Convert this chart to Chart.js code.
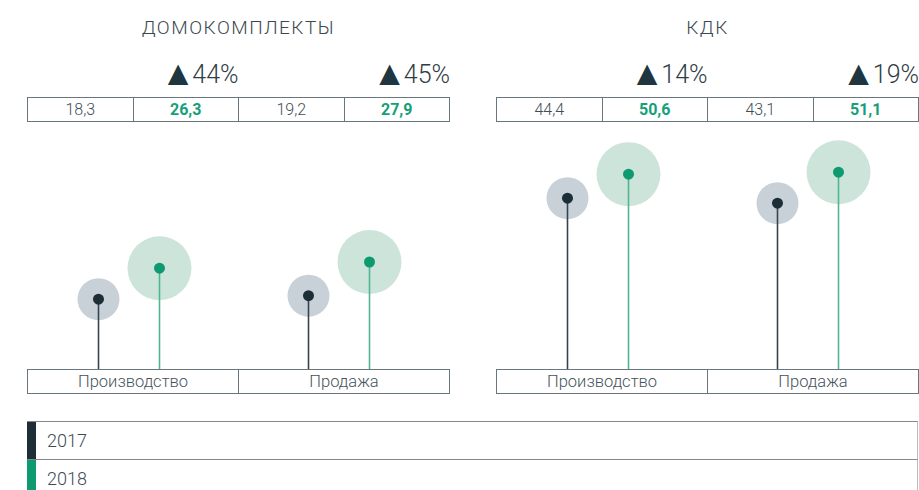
<!DOCTYPE html>
<html><head><meta charset="utf-8">
<script src="https://cdn.jsdelivr.net/npm/chart.js@4.4.1/dist/chart.umd.min.js"></script>
<style>
html,body{margin:0;padding:0;background:#fff;width:919px;height:490px;overflow:hidden;font-family:Roboto,sans-serif;}
.abs{position:absolute;box-sizing:border-box;}
.title{font-weight:300;font-size:19px;color:#3b4850;text-align:center;white-space:nowrap;letter-spacing:1.5px;}
.chg{font-weight:300;font-size:25px;color:#2f3d45;text-align:right;white-space:nowrap;line-height:30px;}
.tri{font-family:"DejaVu Sans",sans-serif;font-size:35px;line-height:30px;color:#1f3640;margin-right:-3px;position:relative;top:2px;}
.row{display:flex;border:1px solid #6a767e;background:#fff;z-index:2;}
.cell{flex:1;text-align:center;font-size:16px;font-weight:300;color:#414e56;line-height:23px;border-left:1px solid #6a767e;}
.cell:first-child{border-left:none;}
.cell.b{font-weight:700;color:#16a07a;}
.cat{font-size:16.5px;font-weight:300;color:#46535b;}
.leg{left:27px;width:891px;height:38px;border-top:1px solid #7f898f;border-right:1px solid #b6bdc1;}
.leg .bar{position:absolute;left:0;top:0;bottom:0;width:9px;}
.leg .txt{position:absolute;left:20px;top:0;line-height:37px;font-size:18px;font-weight:300;color:#3e4b53;}
canvas{position:absolute;}
</style></head><body>
<script>
// ---- data ----
const panelTitles = ['ДОМОКОМПЛЕКТЫ', 'КДК'];
const categories = ['Производство', 'Продажа'];
const seriesNames = ['2017', '2018'];
const domo2017 = [18.3, 19.2];
const domo2018 = [26.3, 27.9];
const kdk2017 = [44.4, 43.1];
const kdk2018 = [50.6, 51.1];
const domoChange = ['44%', '45%'];
const kdkChange = ['14%', '19%'];

// ---- styles ----
const seriesStyle = [
  {stem:'#34434c', dot:'#1e2e37', halo:'#c9d1d8', haloR:21, dotR:5.5},
  {stem:'#4fb592', dot:'#0e9a70', halo:'#cde4db', haloR:32, dotR:5.5}
];
const panelLeft = [27, 496];
const panelWidth = 423;

const panels = [
  {title: panelTitles[0], s17: domo2017, s18: domo2018, chg: domoChange},
  {title: panelTitles[1], s17: kdk2017, s18: kdk2018, chg: kdkChange}
];
const fmt = v => v.toFixed(1).replace('.', ',');

function el(cls, css, html){
  const d = document.createElement('div');
  d.className = cls;
  Object.assign(d.style, css);
  if (html !== undefined) d.innerHTML = html;
  document.body.appendChild(d);
  return d;
}

const lollipop = {
  id: 'lollipop',
  beforeDatasetsDraw(chart){
    const ctx = chart.ctx;
    chart.data.datasets.forEach((ds, i) => {
      const st = seriesStyle[i];
      chart.getDatasetMeta(i).data.forEach(bar => {
        ctx.save();
        ctx.fillStyle = st.halo;
        ctx.beginPath();
        ctx.arc(bar.x, bar.y, st.haloR, 0, Math.PI * 2);
        ctx.fill();
        ctx.restore();
      });
    });
  },
  afterDatasetsDraw(chart){
    const ctx = chart.ctx;
    chart.data.datasets.forEach((ds, i) => {
      const st = seriesStyle[i];
      chart.getDatasetMeta(i).data.forEach(bar => {
        ctx.save();
        ctx.fillStyle = st.dot;
        ctx.beginPath();
        ctx.arc(bar.x, bar.y, st.dotR, 0, Math.PI * 2);
        ctx.fill();
        ctx.restore();
      });
    });
  }
};

panels.forEach((p, pi) => {
  const L = panelLeft[pi];
  el('abs title', {left: L + 'px', width: panelWidth + 'px', top: '16px'}, p.title);
  // change labels, right aligned to 2nd and 4th cells
  p.chg.forEach((c, ci) => {
    const right = L + panelWidth * (ci + 1) / 2;
    el('abs chg', {left: (right - 150) + 'px', width: '150px', top: '56px'},
      '<span class="tri">▲</span>' + c);
  });
  // value row
  const r = el('abs row', {left: L + 'px', width: panelWidth + 'px', top: '97px', height: '25px'});
  categories.forEach((c, ci) => {
    [[p.s17[ci], ''], [p.s18[ci], ' b']].forEach(([v, b]) => {
      const d = document.createElement('div');
      d.className = 'cell' + b;
      d.textContent = fmt(v);
      r.appendChild(d);
    });
  });
  // category row
  const cr = el('abs row', {left: L + 'px', width: panelWidth + 'px', top: '369px', height: '25px'});
  categories.forEach(c => {
    const d = document.createElement('div');
    d.className = 'cell cat';
    d.textContent = c;
    cr.appendChild(d);
  });
  // chart
  const cv = document.createElement('canvas');
  cv.width = 420; cv.height = 240;
  cv.style.left = (L - 3) + 'px';
  cv.style.top = '130px';
  cv.style.width = '420px'; cv.style.height = '240px';
  document.body.appendChild(cv);
  new Chart(cv, {
    type: 'bar',
    data: {
      labels: categories,
      datasets: [
        {label: seriesNames[0], data: p.s17, backgroundColor: seriesStyle[0].stem},
        {label: seriesNames[1], data: p.s18, backgroundColor: seriesStyle[1].stem}
      ]
    },
    options: {
      responsive: false, animation: false, devicePixelRatio: 1,
      categoryPercentage: 0.581, barPercentage: 0.026,
      layout: {padding: 0},
      plugins: {legend: {display: false}, tooltip: {enabled: false}},
      scales: {
        x: {display: false},
        y: {display: false, min: 0, max: 62}
      }
    },
    plugins: [lollipop]
  });
});

// legend
seriesNames.forEach((n, i) => {
  const lg = el('abs leg', {top: (421 + i * 38) + 'px'});
  const b = document.createElement('div'); b.className = 'bar'; b.style.background = seriesStyle[i].dot;
  const t = document.createElement('div'); t.className = 'txt'; t.textContent = n;
  lg.appendChild(b); lg.appendChild(t);
});
</script>
</body></html>
